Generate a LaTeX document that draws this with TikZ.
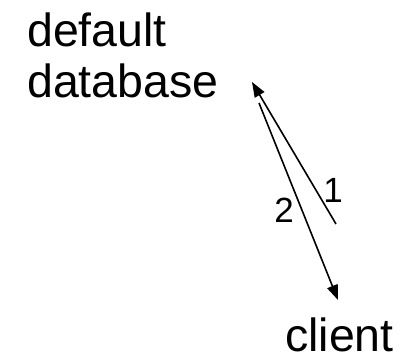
\documentclass[tikz,border=0pt]{standalone}
\usepackage{fontspec}
\setmainfont{Liberation Sans}
\usetikzlibrary{arrows.meta}
\tikzset{
  bigtext/.style={font=\fontsize{46.5}{51}\selectfont,inner sep=0pt,anchor=base west,align=left},
  numtext/.style={font=\fontsize{35}{37}\selectfont,inner sep=0pt},
  msg/.style={line width=1.6pt,-{Triangle[length=15pt,width=11pt]}}
}
\begin{document}
\begin{tikzpicture}[x=1pt,y=1pt]
  \useasboundingbox (0,0) rectangle (405,357);
  \node[bigtext] (def) at (27,310) {default};
  \node[bigtext] (db) at (27,259) {database};
  \node[bigtext] (cl) at (285,6) {client};
  % ends of the two messages
  \coordinate (dbin) at (252,275);
  \coordinate (dbout) at (259,254);
  \coordinate (clout) at (336,133);
  \coordinate (clin) at (338,57);
  \draw[msg] (clout)--(dbin);
  \draw[msg] (dbout)--(clin);
  \node[numtext] (one) at (333,167) {1};
  \node[numtext] (two) at (284,147) {2};
\end{tikzpicture}
\end{document}
